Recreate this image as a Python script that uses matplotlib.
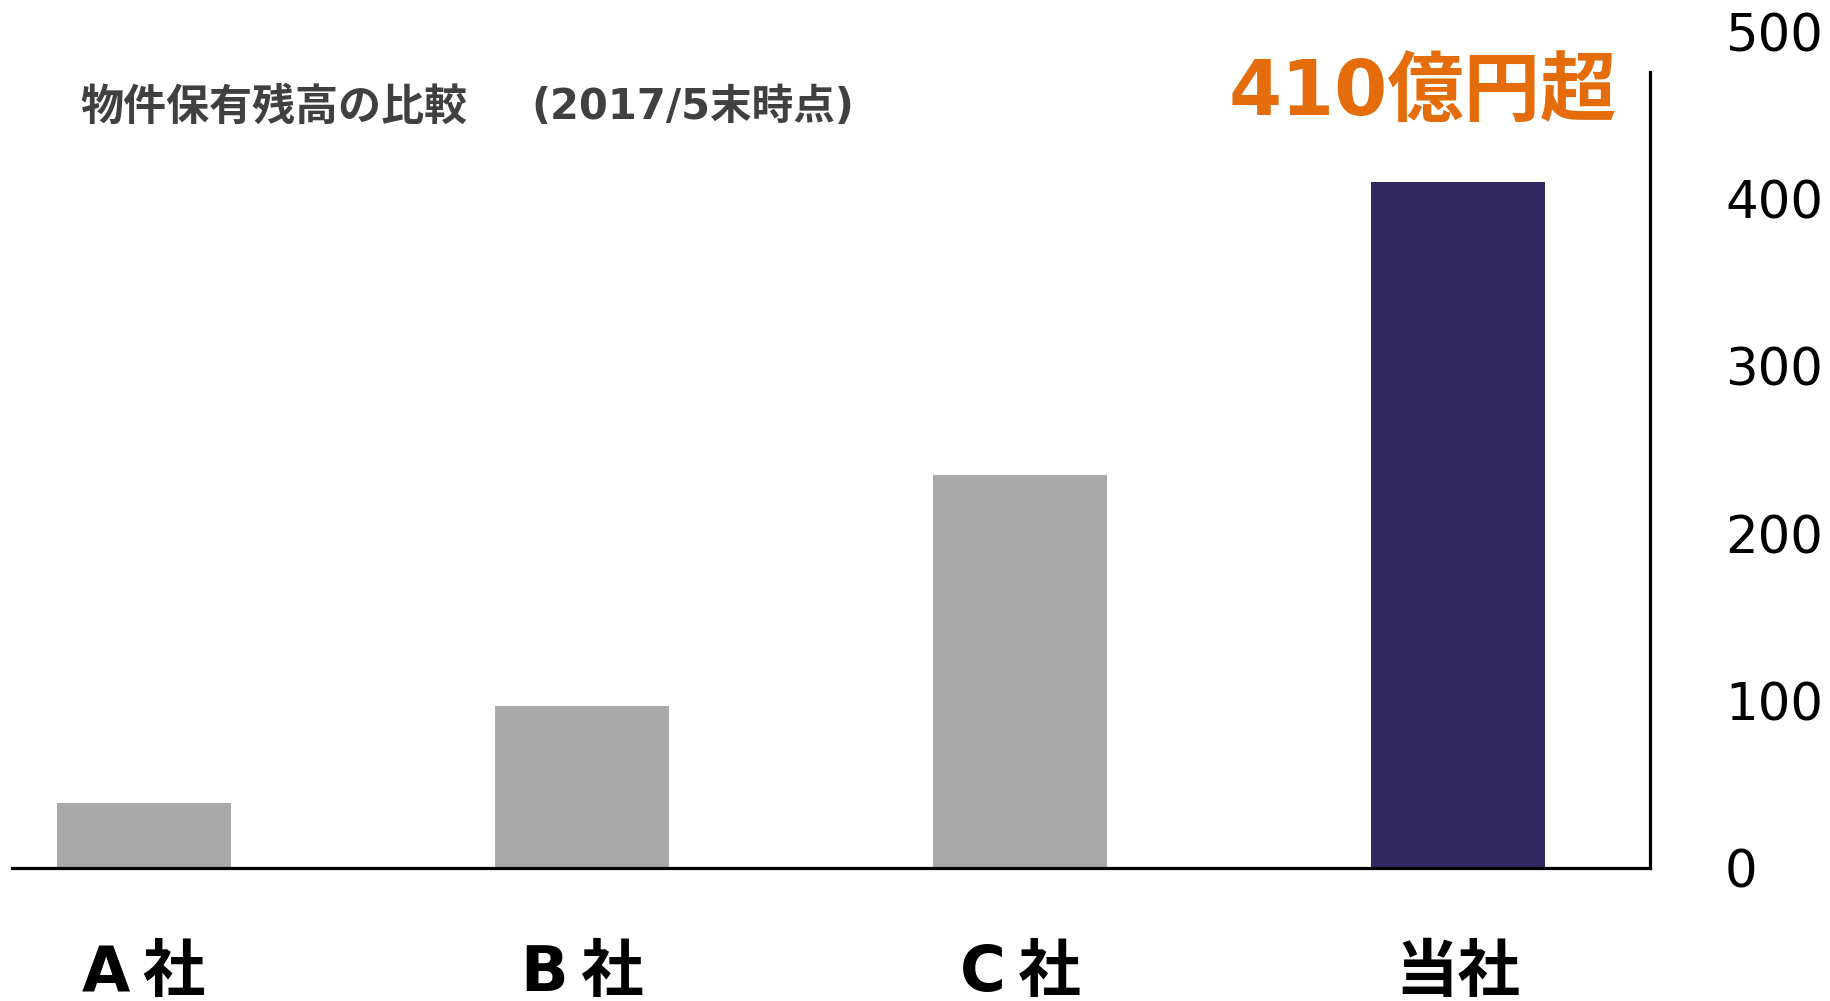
import matplotlib
matplotlib.use("Agg")
import matplotlib.pyplot as plt

categories = ["A社", "B社", "C社", "当社"]
values = [39, 97, 235, 410]
bar_colors = ["#A9A9A9", "#A9A9A9", "#A9A9A9", "#332962"]
yticks = [0, 100, 200, 300, 400, 500]
title_main = "物件保有残高の比較"
title_sub = "(2017/5末時点)"
highlight = "410億円超"

W, H = 1831, 1001
fig = plt.figure(figsize=(W / 100, H / 100), dpi=100)
fam = ["DejaVu Sans", "Noto Sans CJK JP"]

left, right = 12 / W, 1650 / W
bottom, top = (H - 868) / H, (H - 32) / H
ax = fig.add_axes([left, bottom, right - left, top - bottom])

x = list(range(len(categories)))
ax.bar(x, values, width=0.397, color=bar_colors, zorder=1)
ax.set_xlim(-0.301, 3.438)
ax.set_ylim(0, 500)

for s in ["top", "left"]:
    ax.spines[s].set_visible(False)
ax.spines["bottom"].set_linewidth(2.3)
ax.spines["right"].set_linewidth(2.3)
ax.spines["right"].set_bounds(0, 476)
ax.spines["bottom"].set_zorder(3)

ax.yaxis.tick_right()
ax.set_yticks(yticks)
ax.set_yticklabels([str(v) for v in yticks], fontsize=37, family="DejaVu Sans")
ax.tick_params(axis="y", length=0, pad=54)

ax.set_xticks(x)
ax.set_xticklabels([c[:-1] + "\u2009" + c[-1] if c[0].isascii() else c for c in categories],
                   fontsize=45, fontweight="bold", family=fam)
ax.tick_params(axis="x", length=0, pad=55)

fig.text(80 / W, (H - 107) / H, title_main, fontsize=31, fontweight="bold",
         color="#404040", family=["Noto Sans CJK JP"], ha="left", va="center")
fig.text(531 / W, (H - 107) / H, title_sub, fontsize=30, fontweight="bold",
         color="#404040", family=fam, ha="left", va="center")
fig.text(1617 / W, (H - 94) / H, highlight, fontsize=55, fontweight="bold",
         color="#E46C0A", family=fam, ha="right", va="center")

fig.savefig("out.png", dpi=100)
